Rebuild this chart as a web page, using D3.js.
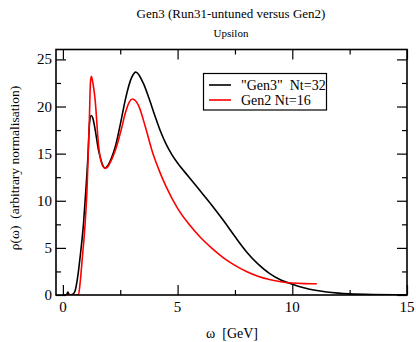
<!DOCTYPE html>
<html><head><meta charset="utf-8">
<script src="https://cdn.jsdelivr.net/npm/d3@7"></script>
<style>body{margin:0;background:#fff}svg{display:block}
svg text{font-family:"Liberation Serif","LiberationSerif","Tinos","Nimbus Roman","Times New Roman",Times,"DejaVu Serif",serif;}</style>
</head><body>
<script>
const title = "Gen3 (Run31-untuned versus Gen2)";
const subtitle = "Upsilon";
const xLabel = "ω  [GeV]";
const yLabel = "ρ(ω)  (arbitrary normalisation)";
const seriesNames = ['"Gen3"  Nt=32', 'Gen2 Nt=16'];
const seriesColors = ["#000000", "#ff0000"];
const xTicks = [0, 5, 10, 15];
const yTicks = [0, 5, 10, 15, 20, 25];

const gen3Omega = [0,0.15,0.22,0.28,0.45,0.54,0.65,0.75,0.9,1.0,1.09,1.16,1.23,1.3,1.41,1.55,1.63,1.75,1.84,1.95,2.13,2.28,2.57,2.71,3.0,3.18,3.5,3.75,4.0,4.25,4.5,4.75,5.0,5.5,6.0,6.5,7.0,7.5,8.0,8.5,9.0,9.5,10.0,10.5,11.0,11.5,12.0,12.5,13.5,15];
const gen3Rho   = [0,0,0.3,0,0.1,0.5,2.0,4.0,7.6,11.1,14.6,18.2,19.05,18.8,17.5,15.4,14.6,13.7,13.45,13.7,14.6,15.7,18.9,20.6,23.1,23.65,22.5,20.9,19.1,17.4,16.0,14.9,14.0,12.5,11.0,9.5,7.9,6.2,4.6,3.3,2.3,1.6,1.15,0.78,0.5,0.32,0.2,0.12,0.05,0.02];

const gen2Omega = [0,0.6,0.68,0.76,0.85,0.97,1.05,1.1,1.15,1.2,1.24,1.3,1.41,1.55,1.7,1.84,1.95,2.13,2.28,2.57,2.71,2.9,3.03,3.3,3.6,3.9,4.2,4.5,5.0,5.5,6.0,6.5,7.0,7.5,8.0,8.5,9.0,9.5,10.0,10.5,11.07];
const gen2Rho   = [0,0,0.05,1.5,4.0,7.6,11.1,14.6,18.2,22.5,23.2,22.6,20.6,16.0,13.9,13.45,13.6,14.4,15.3,17.8,19.2,20.5,20.8,20.1,17.8,15.2,13.2,11.5,9.2,7.5,6.1,4.95,3.95,3.15,2.5,2.0,1.65,1.4,1.27,1.21,1.19];

const W = 416, H = 342;
const L = 56, R = 407, T = 49.5, B = 295;
const svg = d3.select("body").append("svg").attr("width", W).attr("height", H);

const x = d3.scaleLinear().domain([-0.3, 15]).range([L, R]);
const y = d3.scaleLinear().domain([0, 26.05]).range([B, T]);

svg.append("clipPath").attr("id","clip").append("rect")
  .attr("x", L).attr("y", T).attr("width", R-L).attr("height", B-T);

const line = d3.line().x(d => x(d[0])).y(d => y(d[1])).curve(d3.curveMonotoneX);
const series = [d3.zip(gen3Omega, gen3Rho), d3.zip(gen2Omega, gen2Rho)];
const g = svg.append("g").attr("clip-path","url(#clip)");
series.forEach((s,i) => {
  g.append("path").datum(s).attr("d", line).attr("fill","none")
   .attr("stroke", seriesColors[i]).attr("stroke-width", 1.6);
});

const xMinor = [2.5, 7.5, 12.5];
const yMinor = [2.5, 7.5, 12.5, 17.5, 22.5];
function tickAxis(axisGen, transform, vals, size) {
  const a = svg.append("g").attr("transform", transform)
    .call(axisGen.tickValues(vals).tickSize(size).tickFormat(""));
  a.select(".domain").remove();
  a.selectAll(".tick line").attr("stroke","#000").attr("stroke-width",1.2);
  return a;
}
tickAxis(d3.axisTop(x), `translate(0,${B})`, xTicks, 10);
tickAxis(d3.axisTop(x), `translate(0,${B})`, xMinor, 5);
tickAxis(d3.axisBottom(x), `translate(0,${T})`, xTicks, 10);
tickAxis(d3.axisBottom(x), `translate(0,${T})`, xMinor, 5);
tickAxis(d3.axisRight(y), `translate(${L},0)`, yTicks, 10);
tickAxis(d3.axisRight(y), `translate(${L},0)`, yMinor, 5);
tickAxis(d3.axisLeft(y), `translate(${R},0)`, yTicks, 10);
tickAxis(d3.axisLeft(y), `translate(${R},0)`, yMinor, 5);

svg.append("rect").attr("x", L).attr("y", T).attr("width", R-L).attr("height", B-T)
  .attr("fill","none").attr("stroke","#000").attr("stroke-width",1.6);

svg.append("g").selectAll("text").data(xTicks).join("text")
  .attr("x", d => x(d)).attr("y", 312).attr("text-anchor","middle")
  .attr("font-size", 15).text(d => d);
svg.append("g").selectAll("text").data(yTicks).join("text")
  .attr("x", 52).attr("y", d => y(d) + 5).attr("text-anchor","end")
  .attr("font-size", 15).text(d => d);

function txt(sel){ return sel.attr("xml:space","preserve").style("white-space","pre"); }
txt(svg.append("text")).attr("x", 231).attr("y", 18).attr("text-anchor","middle").attr("font-size", 13).text(title);
txt(svg.append("text")).attr("x", 231).attr("y", 37).attr("text-anchor","middle").attr("font-size", 11).text(subtitle);
txt(svg.append("text")).attr("x", 232).attr("y", 338).attr("text-anchor","middle").attr("font-size", 14).text(xLabel);
txt(svg.append("text")).attr("transform", "translate(19,168) rotate(-90)").attr("text-anchor","middle").attr("font-size", 13.5).text(yLabel);

const lg = svg.append("g");
lg.append("rect").attr("x", 203.5).attr("y", 73.5).attr("width", 123).attr("height", 36.5)
  .attr("fill","#fff").attr("stroke","#000").attr("stroke-width",1.2);
seriesNames.forEach((n,i) => {
  const yy = 85 + i*15;
  lg.append("line").attr("x1", 209).attr("x2", 231).attr("y1", yy).attr("y2", yy)
    .attr("stroke", seriesColors[i]).attr("stroke-width", 1.6);
  txt(lg.append("text")).attr("x", 241).attr("y", yy + 5).attr("font-size", 14).text(n);
});
</script>
</body></html>
